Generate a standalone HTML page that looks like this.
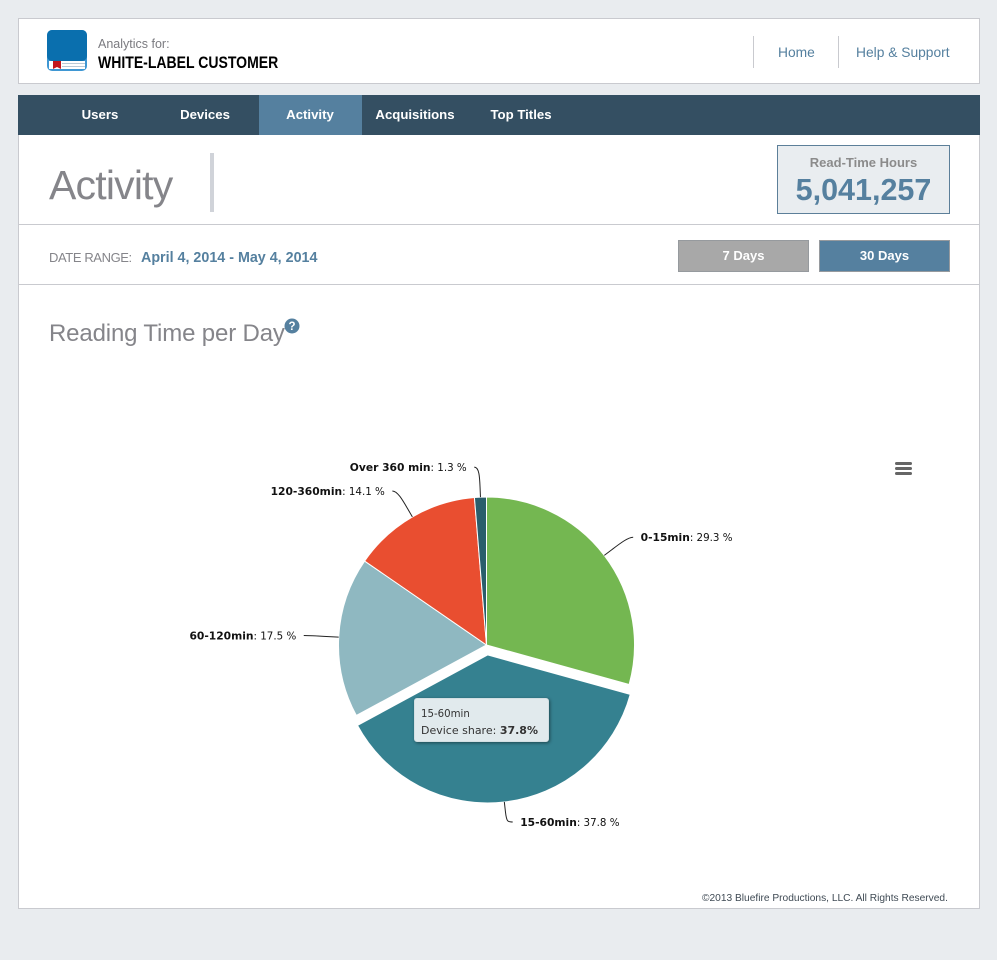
<!DOCTYPE html>
<html lang="en">
<head>
<meta charset="utf-8">
<title>Activity - Reading Time per Day</title>
<style>
html,body{margin:0;padding:0}
body{position:relative;width:997px;height:960px;overflow:hidden;background:#e9ecef;font-family:"Liberation Sans",sans-serif}
.abs{position:absolute;white-space:nowrap;box-sizing:border-box}
.panel{background:#fff;border:1px solid #c9cacf}
.rule{background:#c9cacf}
.nav{color:#fff;font-weight:bold;font-size:13.2px;line-height:40px;top:95px;text-align:center;text-decoration:none}
.link{color:#55809f;font-size:13.8px;line-height:18px;top:44px;text-decoration:none}
.btn{top:240px;height:32px;width:131px;color:#fff;font-weight:bold;font-size:13px;line-height:29px;text-align:center;border:1px solid #969a9e}
</style>
</head>
<body>
<div class="abs panel" style="left:18px;top:18px;width:962px;height:66px"></div>
<svg class="abs" style="left:47px;top:30px" width="40" height="41" viewBox="0 0 40 41">
  <rect width="40" height="41" rx="5" fill="#3f97d3"/>
  <rect width="40" height="31" rx="5" fill="#0a6fae"/>
  <rect x="2" y="31" width="36" height="8" fill="#fff"/>
  <rect x="15" y="33" width="23" height="1" fill="#b9c9d6"/>
  <rect x="15" y="36" width="23" height="1" fill="#b9c9d6"/>
  <path d="M6 31h8v8l-4-2-4 2z" fill="#c3161c"/>
</svg>
<div class="abs" style="left:98px;top:36px;font-size:12.5px;line-height:16px;color:#7b7b80">Analytics for:</div>
<div class="abs" style="left:98px;top:53px;font-size:17px;line-height:20px;font-weight:bold;color:#000;transform-origin:0 0;transform:scaleX(.825)">WHITE-LABEL CUSTOMER</div>
<div class="abs rule" style="left:753px;top:36px;width:1px;height:32px"></div>
<div class="abs rule" style="left:838px;top:36px;width:1px;height:32px"></div>
<a class="abs link" style="left:778px">Home</a>
<a class="abs link" style="left:856px">Help &amp; Support</a>

<div class="abs" style="left:18px;top:95px;width:962px;height:40px;background:#344f62"></div>
<div class="abs" style="left:259px;top:95px;width:103px;height:40px;background:#55809f"></div>
<a class="abs nav" style="left:60px;width:80px">Users</a>
<a class="abs nav" style="left:165px;width:80px">Devices</a>
<a class="abs nav" style="left:270px;width:80px">Activity</a>
<a class="abs nav" style="left:365px;width:100px">Acquisitions</a>
<a class="abs nav" style="left:481px;width:80px">Top Titles</a>

<div class="abs" style="left:18px;top:135px;width:962px;height:774px;background:#fff;border:1px solid #c9cacf;border-top:0"></div>
<div class="abs" style="left:49px;top:160px;font-size:41px;line-height:50px;color:#85858a;letter-spacing:-.8px">Activity</div>
<div class="abs" style="left:210px;top:153px;width:4px;height:59px;background:#d0d3d9"></div>
<div class="abs" style="left:777px;top:145px;width:173px;height:69px;background:#e9edf0;border:1px solid #5c7f99"></div>
<div class="abs" style="left:777px;top:154px;width:173px;text-align:center;font-size:13px;line-height:17px;font-weight:bold;color:#8b8b8b">Read-Time Hours</div>
<div class="abs" style="left:777px;top:171px;width:173px;text-align:center;font-size:30.5px;line-height:38px;font-weight:bold;color:#55809f">5,041,257</div>
<div class="abs rule" style="left:19px;top:224px;width:960px;height:1px"></div>
<div class="abs" style="left:49px;top:249px;font-size:13px;line-height:18px;color:#85858a;letter-spacing:-.4px">DATE RANGE:</div>
<div class="abs" style="left:141px;top:249px;font-size:14.3px;line-height:18px;font-weight:bold;color:#55809f">April 4, 2014 - May 4, 2014</div>
<div class="abs btn" style="left:678px;background:#a8a8a8">7 Days</div>
<div class="abs btn" style="left:819px;background:#55809f">30 Days</div>
<div class="abs rule" style="left:19px;top:284px;width:960px;height:1px"></div>
<div class="abs" style="left:49px;top:319px;font-size:24px;line-height:30px;color:#85858a;letter-spacing:-.15px">Reading Time per Day</div>
<svg class="abs" style="left:284px;top:318px" width="16" height="16" viewBox="0 0 16 16">
  <circle cx="8" cy="8" r="7.5" fill="#55809f"/>
  <text x="8" y="12" text-anchor="middle" font-family="Liberation Sans, sans-serif" font-weight="bold" font-size="11.5" fill="#fff">?</text>
</svg>

<svg id="chart" class="abs" style="left:19px;top:360px" width="960" height="530" viewBox="19 360 960 530"></svg>

<svg class="abs" style="left:894px;top:461px" width="18" height="15" viewBox="0 0 18 15">
  <rect x="1" y="1" width="17" height="3" rx="1.5" fill="#666"/>
  <rect x="1" y="6" width="17" height="3" rx="1.5" fill="#666"/>
  <rect x="1" y="11" width="17" height="3" rx="1.5" fill="#666"/>
</svg>

<div class="abs" id="tooltip" style="left:414px;top:698px;width:135px;height:44px;background:#e1eaed;border:1px solid #d3dfe3;border-radius:3px;box-shadow:1px 1px 3px rgba(0,0,0,.45);font-family:'DejaVu Sans',sans-serif;color:#333;padding:9px 0 0 6px">
  <div id="tooltip-title" style="font-size:10.2px;line-height:14px"></div>
  <div style="font-size:11px;line-height:17px">Device share: <b id="tooltip-share"></b></div>
</div>

<div class="abs" style="left:702px;top:892px;font-size:10.2px;line-height:14px;color:#3f4a54">©2013 Bluefire Productions, LLC. All Rights Reserved.</div>

<script>
const categories = ['0-15min', '15-60min', '60-120min', '120-360min', 'Over 360 min'];
const shares = [29.3, 37.8, 17.5, 14.1, 1.3];
const sliceColors = ['#74b751', '#358190', '#8fb8c1', '#e94e30', '#2a5e6c'];
const explodedCategory = '15-60min';

const svgNS = 'http://www.w3.org/2000/svg';
const chart = document.getElementById('chart');
const centerX = 486.5, centerY = 645, radius = 148, explodeBy = 10;
const labelDistance = 30, connectorOffset = 10, labelBottomLimit = 822;
const total = shares.reduce((a, b) => a + b, 0);

function angleOf(cumulative) { return cumulative / total * 2 * Math.PI; }
function polar(cx, cy, r, angle) {
  return [cx + Math.sin(angle) * r, cy - Math.cos(angle) * r];
}
function fmt(p) { return p[0].toFixed(2) + ' ' + p[1].toFixed(2); }

let cumulative = 0;
categories.forEach(function (name, i) {
  const start = angleOf(cumulative);
  const end = angleOf(cumulative + shares[i]);
  const mid = (start + end) / 2;
  cumulative += shares[i];
  const off = name === explodedCategory ? explodeBy : 0;
  const cx = centerX + Math.sin(mid) * off;
  const cy = centerY - Math.cos(mid) * off;
  const a = polar(cx, cy, radius, start);
  const b = polar(cx, cy, radius, end);
  const large = end - start > Math.PI ? 1 : 0;

  const slice = document.createElementNS(svgNS, 'path');
  slice.setAttribute('d', 'M' + fmt([cx, cy]) + ' L' + fmt(a) + ' A' + radius + ' ' + radius + ' 0 ' + large + ' 1 ' + fmt(b) + ' Z');
  slice.setAttribute('fill', sliceColors[i]);
  slice.setAttribute('stroke', '#fff');
  slice.setAttribute('stroke-width', '1');
  slice.setAttribute('stroke-linejoin', 'round');
  
  
  chart.appendChild(slice);

  const anchorPt = polar(cx, cy, radius + labelDistance, mid);
  anchorPt[1] = Math.min(anchorPt[1], labelBottomLimit);
  const right = Math.sin(mid) >= 0;
  const dir = right ? 1 : -1;
  const edge = polar(cx, cy, radius, mid);
  const near = polar(cx, cy, radius + connectorOffset, mid);
  const ctrl = [2 * near[0] - edge[0], 2 * near[1] - edge[1]];

  const connector = document.createElementNS(svgNS, 'path');
  connector.setAttribute('d', 'M' + fmt([anchorPt[0] + dir * 5, anchorPt[1]]) + ' C' + fmt(anchorPt) + ' ' + fmt(ctrl) + ' ' + fmt(near) + ' L' + fmt(edge));
  connector.setAttribute('fill', 'none');
  connector.setAttribute('stroke', '#222');
  connector.setAttribute('stroke-width', '1');
  
  
  chart.appendChild(connector);

  const label = document.createElementNS(svgNS, 'text');
  label.setAttribute('x', (anchorPt[0] + dir * 12.5).toFixed(2));
  label.setAttribute('y', (anchorPt[1] + 4).toFixed(2));
  label.setAttribute('text-anchor', right ? 'start' : 'end');
  label.setAttribute('font-family', '"DejaVu Sans", sans-serif');
  label.setAttribute('font-size', '10.3');
  label.setAttribute('fill', '#111');
  
  
  const strong = document.createElementNS(svgNS, 'tspan');
  strong.setAttribute('font-weight', 'bold');
  strong.setAttribute('font-size', '10.7');
  strong.textContent = name;
  label.appendChild(strong);
  label.appendChild(document.createTextNode(': ' + shares[i].toFixed(1) + ' %'));
  chart.appendChild(label);

  if (name === explodedCategory) {
    document.getElementById('tooltip-title').textContent = name;
    document.getElementById('tooltip-share').textContent = shares[i].toFixed(1) + '%';
  }
});
</script>
</body>
</html>
